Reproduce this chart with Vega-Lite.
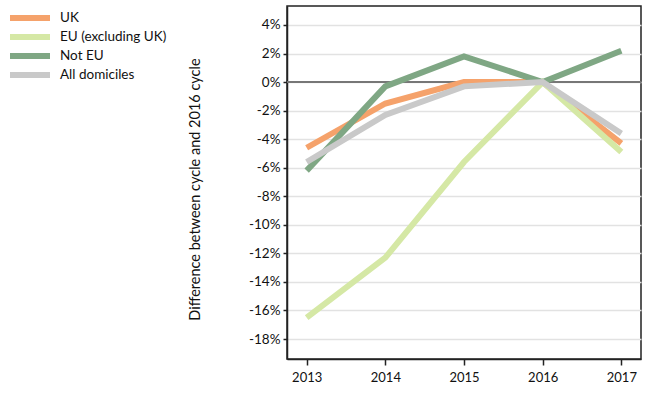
{
  "$schema": "https://vega.github.io/schema/vega-lite/v6.json",
  "width": 354,
  "height": 353,
  "autosize": {"type": "none"},
  "padding": {"left": 287, "top": 6, "right": 9, "bottom": 35},
  "background": "white",
  "config": {
    "font": "Lato",
    "view": {"stroke": "#222222", "strokeWidth": 1.5},
    "legend": {"labelFontSize": 13.5, "labelColor": "#111111"}
  },
  "data": {
    "values": [
      {"series": "UK", "year": 2013, "diff": -4.6},
      {"series": "UK", "year": 2014, "diff": -1.5},
      {"series": "UK", "year": 2015, "diff": 0.0},
      {"series": "UK", "year": 2016, "diff": 0.0},
      {"series": "UK", "year": 2017, "diff": -4.3},
      {"series": "EU (excluding UK)", "year": 2013, "diff": -16.5},
      {"series": "EU (excluding UK)", "year": 2014, "diff": -12.3},
      {"series": "EU (excluding UK)", "year": 2015, "diff": -5.6},
      {"series": "EU (excluding UK)", "year": 2016, "diff": 0.0},
      {"series": "EU (excluding UK)", "year": 2017, "diff": -4.9},
      {"series": "Not EU", "year": 2013, "diff": -6.2},
      {"series": "Not EU", "year": 2014, "diff": -0.3},
      {"series": "Not EU", "year": 2015, "diff": 1.8},
      {"series": "Not EU", "year": 2016, "diff": 0.0},
      {"series": "Not EU", "year": 2017, "diff": 2.2},
      {"series": "All domiciles", "year": 2013, "diff": -5.6},
      {"series": "All domiciles", "year": 2014, "diff": -2.3},
      {"series": "All domiciles", "year": 2015, "diff": -0.3},
      {"series": "All domiciles", "year": 2016, "diff": 0.0},
      {"series": "All domiciles", "year": 2017, "diff": -3.6}
    ]
  },
  "layer": [
    {
      "mark": {"type": "rule", "color": "#777777", "strokeWidth": 1.5},
      "encoding": {"y": {"datum": 0, "type": "quantitative"}}
    },
    {
      "mark": {"type": "line", "strokeWidth": 6},
      "encoding": {
        "x": {
          "field": "year",
          "type": "quantitative",
          "scale": {"domain": [2012.75, 2017.25], "nice": false, "zero": false},
          "axis": {
            "title": null,
            "values": [2013, 2014, 2015, 2016, 2017],
            "tickCount": 10,
            "format": "d",
            "grid": false,
            "labelOverlap": false,
            "domainColor": "#222222",
            "domainWidth": 1.5,
            "tickColor": "#222222",
            "tickWidth": 1.5,
            "tickSize": 6,
            "labelFontSize": 13,
            "labelColor": "#111111",
            "labelPadding": 6
          }
        },
        "y": {
          "field": "diff",
          "type": "quantitative",
          "scale": {"domain": [-19.4, 5.33], "nice": false, "zero": false},
          "axis": {
            "title": "Difference between cycle and 2016 cycle",
            "titleFontSize": 14.5,
            "titleFontWeight": "normal",
            "titleColor": "#111111",
            "titlePadding": 46,
            "titleY": 183,
            "values": [-18, -16, -14, -12, -10, -8, -6, -4, -2, 0, 2, 4],
            "tickCount": 20,
            "labelExpr": "datum.value + '%'",
            "labelOverlap": false,
            "labelFlush": false,
            "grid": true,
            "gridColor": "#e2e2e2",
            "gridWidth": 1.5,
            "domainColor": "#222222",
            "domainWidth": 1.5,
            "tickColor": "#222222",
            "tickWidth": 1.5,
            "tickSize": 4,
            "labelFontSize": 13.5,
            "labelColor": "#111111",
            "labelPadding": 3
          }
        },
        "color": {
          "field": "series",
          "type": "nominal",
          "scale": {
            "domain": ["UK", "EU (excluding UK)", "Not EU", "All domiciles"],
            "range": ["#F5A26B", "#D5E8A5", "#7FA784", "#C9C9C9"]
          },
          "legend": {
            "title": null,
            "orient": "none",
            "legendX": -280,
            "legendY": 4,
            "symbolType": "stroke",
            "symbolStrokeWidth": 6,
            "symbolSize": 1600,
            "clipHeight": 16,
            "rowPadding": 3,
            "labelOffset": 7
          }
        }
      }
    }
  ]
}
